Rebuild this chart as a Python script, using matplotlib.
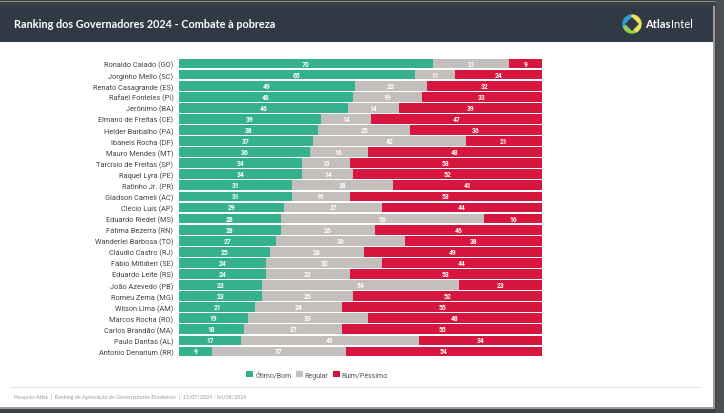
import matplotlib
matplotlib.use("Agg")
import matplotlib.pyplot as plt
from matplotlib.patches import Rectangle, Polygon, Wedge
from matplotlib.lines import Line2D
import numpy as np

governors = ["Ronaldo Caiado (GO)", "Jorginho Mello (SC)", "Renato Casagrande (ES)",
             "Rafael Fonteles (PI)", "Jerônimo (BA)", "Elmano de Freitas (CE)",
             "Helder Barbalho (PA)", "Ibaneis Rocha (DF)", "Mauro Mendes (MT)",
             "Tarcísio de Freitas (SP)", "Raquel Lyra (PE)", "Ratinho Jr. (PR)",
             "Gladson Cameli (AC)", "Clécio Luís (AP)", "Eduardo Riedel (MS)",
             "Fátima Bezerra (RN)", "Wanderlei Barbosa (TO)", "Cláudio Castro (RJ)",
             "Fábio Mitidieri (SE)", "Eduardo Leite (RS)", "João Azevedo (PB)",
             "Romeu Zema (MG)", "Wilson Lima (AM)", "Marcos Rocha (RO)",
             "Carlos Brandão (MA)", "Paulo Dantas (AL)", "Antonio Denarium (RR)"]
otimo_bom = [70, 65, 49, 48, 46, 39, 38, 37, 36, 34, 34, 31, 31, 29, 28, 28, 27, 25, 24, 24, 23, 23, 21, 19, 18, 17, 9]
regular = [21, 11, 20, 19, 14, 14, 25, 42, 16, 13, 14, 28, 16, 27, 56, 26, 36, 26, 32, 23, 54, 25, 24, 33, 27, 49, 37]
ruim_pessimo = [9, 24, 32, 33, 39, 47, 36, 21, 48, 53, 52, 41, 53, 44, 16, 46, 38, 49, 44, 53, 23, 52, 55, 48, 55, 34, 54]
series_names = ["Ótimo/Bom", "Regular", "Ruim/Péssimo"]
title = "Ranking dos Governadores 2024 - Combate à pobreza"
footer = "Pesquisa Atlas  |  Ranking de Aprovação de Governadores Brasileiros  |  15/07/2024 - 04/08/2024"

colors = ["#35b18e", "#c2bfbd", "#d6163f"]

W, H = 724, 414
fig = plt.figure(figsize=(W / 100, H / 100), dpi=100)
fig.patch.set_facecolor("#3d4043")

def rect(x0, y0, x1, y1, color, z=0):
    fig.patches.append(Rectangle((x0 / W, 1 - y1 / H), (x1 - x0) / W, (y1 - y0) / H,
                                 transform=fig.transFigure, facecolor=color,
                                 edgecolor="none", zorder=z))

# frame pieces
rect(0, 2, 716, 3.2, "#8a8d90", 1)
rect(716, 0, W, H, "#4b4e51", 1)
rect(0, 7, 713, 43, "#313944", 2)
rect(0, 43, 713, 408, "#ffffff", 2)
rect(713, 7, 715, 409, "#9a9c9e", 2)
rect(0, 408, 715, 410, "#9a9c9e", 2)

fig.text(14 / W, 1 - 25 / H, title, color="white", fontsize=7.8, fontweight="bold",
         family=["Lato", "DejaVu Sans"], va="center", ha="left", zorder=5)

# logo
ax_logo = fig.add_axes([622 / W, 1 - 35 / H, 20 / W, 20 / H])
ax_logo.set_zorder(6)
ax_logo.patch.set_alpha(0)
ax_logo.set_xlim(-1, 1); ax_logo.set_ylim(-1, 1); ax_logo.set_aspect("equal"); ax_logo.axis("off")
ax_logo.add_patch(Wedge((0, 0), 0.9, 90, 200, width=0.38, color="#2f9fd8"))
ax_logo.add_patch(Wedge((0, 0), 0.9, 200, 300, width=0.38, color="#8fd14f"))
ax_logo.add_patch(Wedge((0, 0), 0.9, 300, 450, width=0.38, color="#f0e15a"))
ax_logo.add_patch(Polygon([(0, 0.6), (0.6, 0), (0, -0.6), (-0.6, 0)], color="#313944"))
fig.text(645 / W, 1 - 25 / H, "Atlas", color="white", fontsize=8, fontweight="bold",
         family=["Lato", "DejaVu Sans"], va="center", ha="left", zorder=5)
fig.text(670.5 / W, 1 - 25 / H, "Intel", color="white", fontsize=8,
         family=["Lato", "DejaVu Sans"], va="center", ha="left", zorder=5)

# chart
ax = fig.add_axes([179 / W, 1 - 358 / H, 363 / W, 299 / H])
ax.set_zorder(4)
ax.patch.set_alpha(0)
n = len(governors)
y = np.arange(n)
data = np.array([otimo_bom, regular, ruim_pessimo], dtype=float)
totals = data.sum(axis=0)
left = np.zeros(n)
for vals, col, name in zip(data, colors, series_names):
    widths = vals / totals * 100
    ax.barh(y, widths, left=left, color=col, height=0.88, label=name, edgecolor="none")
    for yi, (l, w, v) in enumerate(zip(left, widths, vals)):
        ax.text(l + w / 2, yi, str(int(v)), color="white", fontsize=4.9, fontweight="bold",
                ha="center", va="center", family=["Roboto", "DejaVu Sans"])
    left = left + widths
ax.set_xlim(0, 100)
ax.set_ylim(n - 0.5, -0.5)
ax.set_yticks(y)
ax.set_yticklabels(governors, fontsize=5.3, color="#444444", family=["Roboto", "DejaVu Sans"])
ax.tick_params(axis="y", length=0, pad=4)
ax.set_xticks([])
for s in ax.spines.values():
    s.set_visible(False)

handles = [Rectangle((0, 0), 1, 1, facecolor=c, edgecolor="none") for c in colors]
leg = fig.legend(handles, series_names, loc="center", bbox_to_anchor=(317 / W, 1 - 376 / H),
                 ncol=3, frameon=False, handlelength=1.0, handleheight=1.0,
                 handletextpad=0.3, columnspacing=0.6,
                 prop={"family": ["Roboto", "DejaVu Sans"], "size": 5})
for t in leg.get_texts():
    t.set_color("#555555")
leg.set_zorder(6)

fig.lines.append(Line2D([10 / W, 700 / W], [1 - 388 / H, 1 - 388 / H], transform=fig.transFigure,
                        color="#e6e6e6", lw=0.8, zorder=5))
fig.text(14 / W, 1 - 397 / H, footer, color="#9a9a9a", fontsize=3.9,
         family=["Lato", "DejaVu Sans"], va="center", ha="left", zorder=5)

fig.savefig("out.png", dpi=100)
